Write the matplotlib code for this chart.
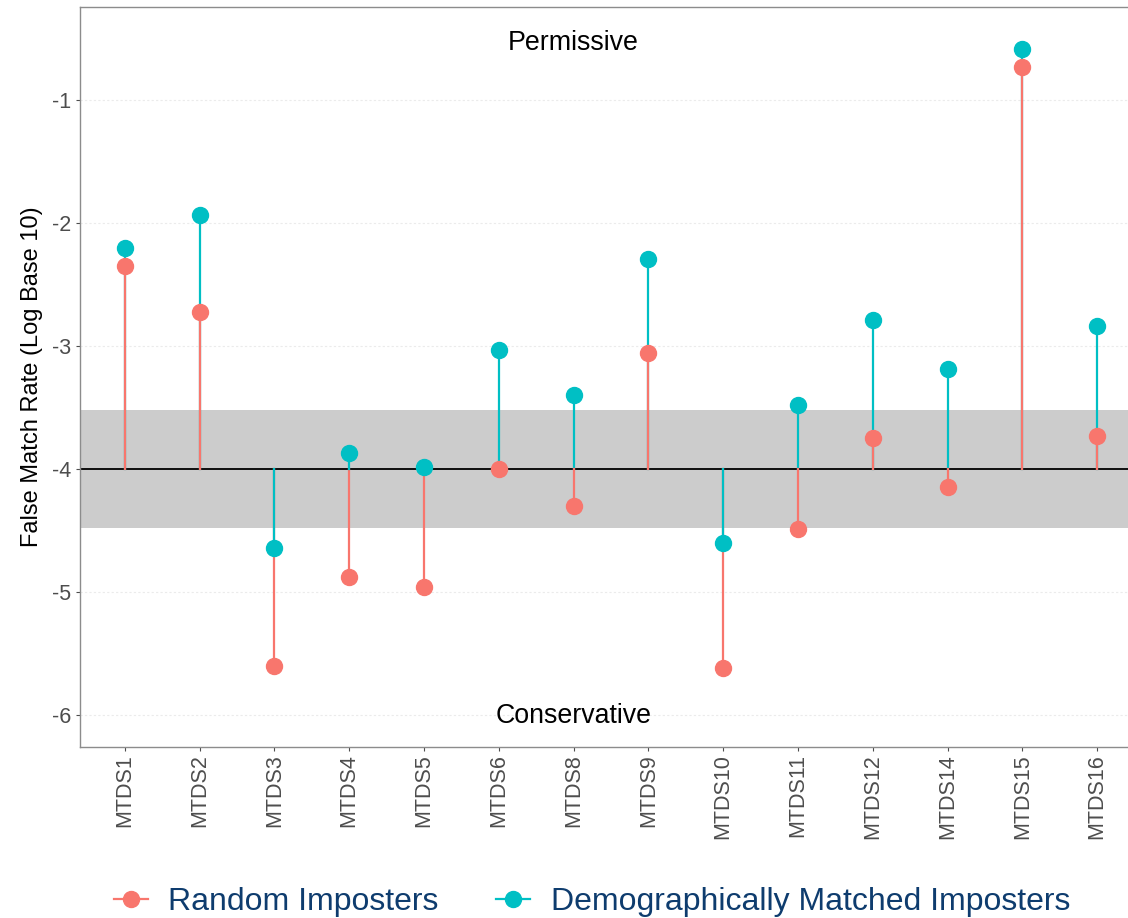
import matplotlib as mpl
import matplotlib.pyplot as plt
from matplotlib.lines import Line2D
import numpy as np

mpl.rcParams["font.family"] = ['Liberation Sans', 'DejaVu Sans']
mpl.rcParams["axes.unicode_minus"] = False

# log10 false match rates per algorithm
algorithms = ['MTDS1', 'MTDS2', 'MTDS3', 'MTDS4', 'MTDS5', 'MTDS6', 'MTDS8',
              'MTDS9', 'MTDS10', 'MTDS11', 'MTDS12', 'MTDS14', 'MTDS15', 'MTDS16']
random_fmr = [-2.35, -2.72, -5.60, -4.88, -4.96, -4.00, -4.30,
              -3.06, -5.62, -4.49, -3.75, -4.15, -0.73, -3.73]
matched_fmr = [-2.20, -1.93, -4.64, -3.87, -3.98, -3.03, -3.40,
               -2.29, -4.60, -3.48, -2.79, -3.19, -0.58, -2.84]
baseline = -4
band = (-4.48, -3.52)

red = '#F8766D'
teal = '#00BFC4'

fig = plt.figure(figsize=(11.28, 9.18), dpi=100)
ax = fig.add_axes([80 / 1128, 171 / 918, 1062 / 1128, 740 / 918])

x = np.arange(len(algorithms))

# shaded tolerance band and reference line
ax.axhspan(band[0], band[1], color='#CCCCCC', lw=0, zorder=1)
ax.axhline(baseline, color='black', lw=1.3, zorder=2)

# segments from the baseline, longer one underneath
for i in x:
    segs = [(random_fmr[i], red), (matched_fmr[i], teal)]
    segs.sort(key=lambda s: -abs(s[0] - baseline))
    for val, col in segs:
        ax.plot([i, i], [baseline, val], color=col, lw=1.6, zorder=3)

ax.plot(x, random_fmr, 'o', color=red, markersize=11.5, zorder=4)
ax.plot(x, matched_fmr, 'o', color=teal, markersize=11.5, zorder=5)

ax.text(6, -0.53, 'Permissive', ha='center', va='center', fontsize=19.3)
ax.text(6, -6.01, 'Conservative', ha='center', va='center', fontsize=19.3)

ax.set_xlim(-0.6, len(algorithms) - 0.4)
ax.set_ylim(-6.262, -0.241)
ax.set_xticks(x)
ax.set_xticklabels(algorithms, rotation=90, fontsize=15.5, color='#4D4D4D')
ax.set_yticks([-1, -2, -3, -4, -5, -6])
ax.set_yticklabels(['-1', '-2', '-3', '-4', '-5', '-6'], fontsize=15.5, color='#4D4D4D')
ax.tick_params(axis='both', length=3, color='#4D4D4D', width=0.8)
ax.tick_params(axis='x', pad=2)
ax.set_ylabel('False Match Rate (Log Base 10)', fontsize=17, labelpad=6)
ax.grid(axis='y', linestyle=(0, (2, 2)), color='#EBEBEB', lw=0.8, zorder=0)
ax.set_axisbelow(True)
for s in ax.spines.values():
    s.set_color('#8C8C8C')
    s.set_linewidth(1.0)

handles = [Line2D([], [], color=red, marker='o', markersize=11.5, lw=1.6),
           Line2D([], [], color=teal, marker='o', markersize=11.5, lw=1.6)]
leg = fig.legend(handles, ['Random Imposters', 'Demographically Matched Imposters'],
                 loc='center', bbox_to_anchor=(592 / 1128, 1 - 902 / 918), ncol=2,
                 frameon=False, fontsize=23, handlelength=1.05, handletextpad=0.65,
                 columnspacing=1.8)
for t in leg.get_texts():
    t.set_color('#0E3C6E')

plt.savefig('out.png', dpi=100)
